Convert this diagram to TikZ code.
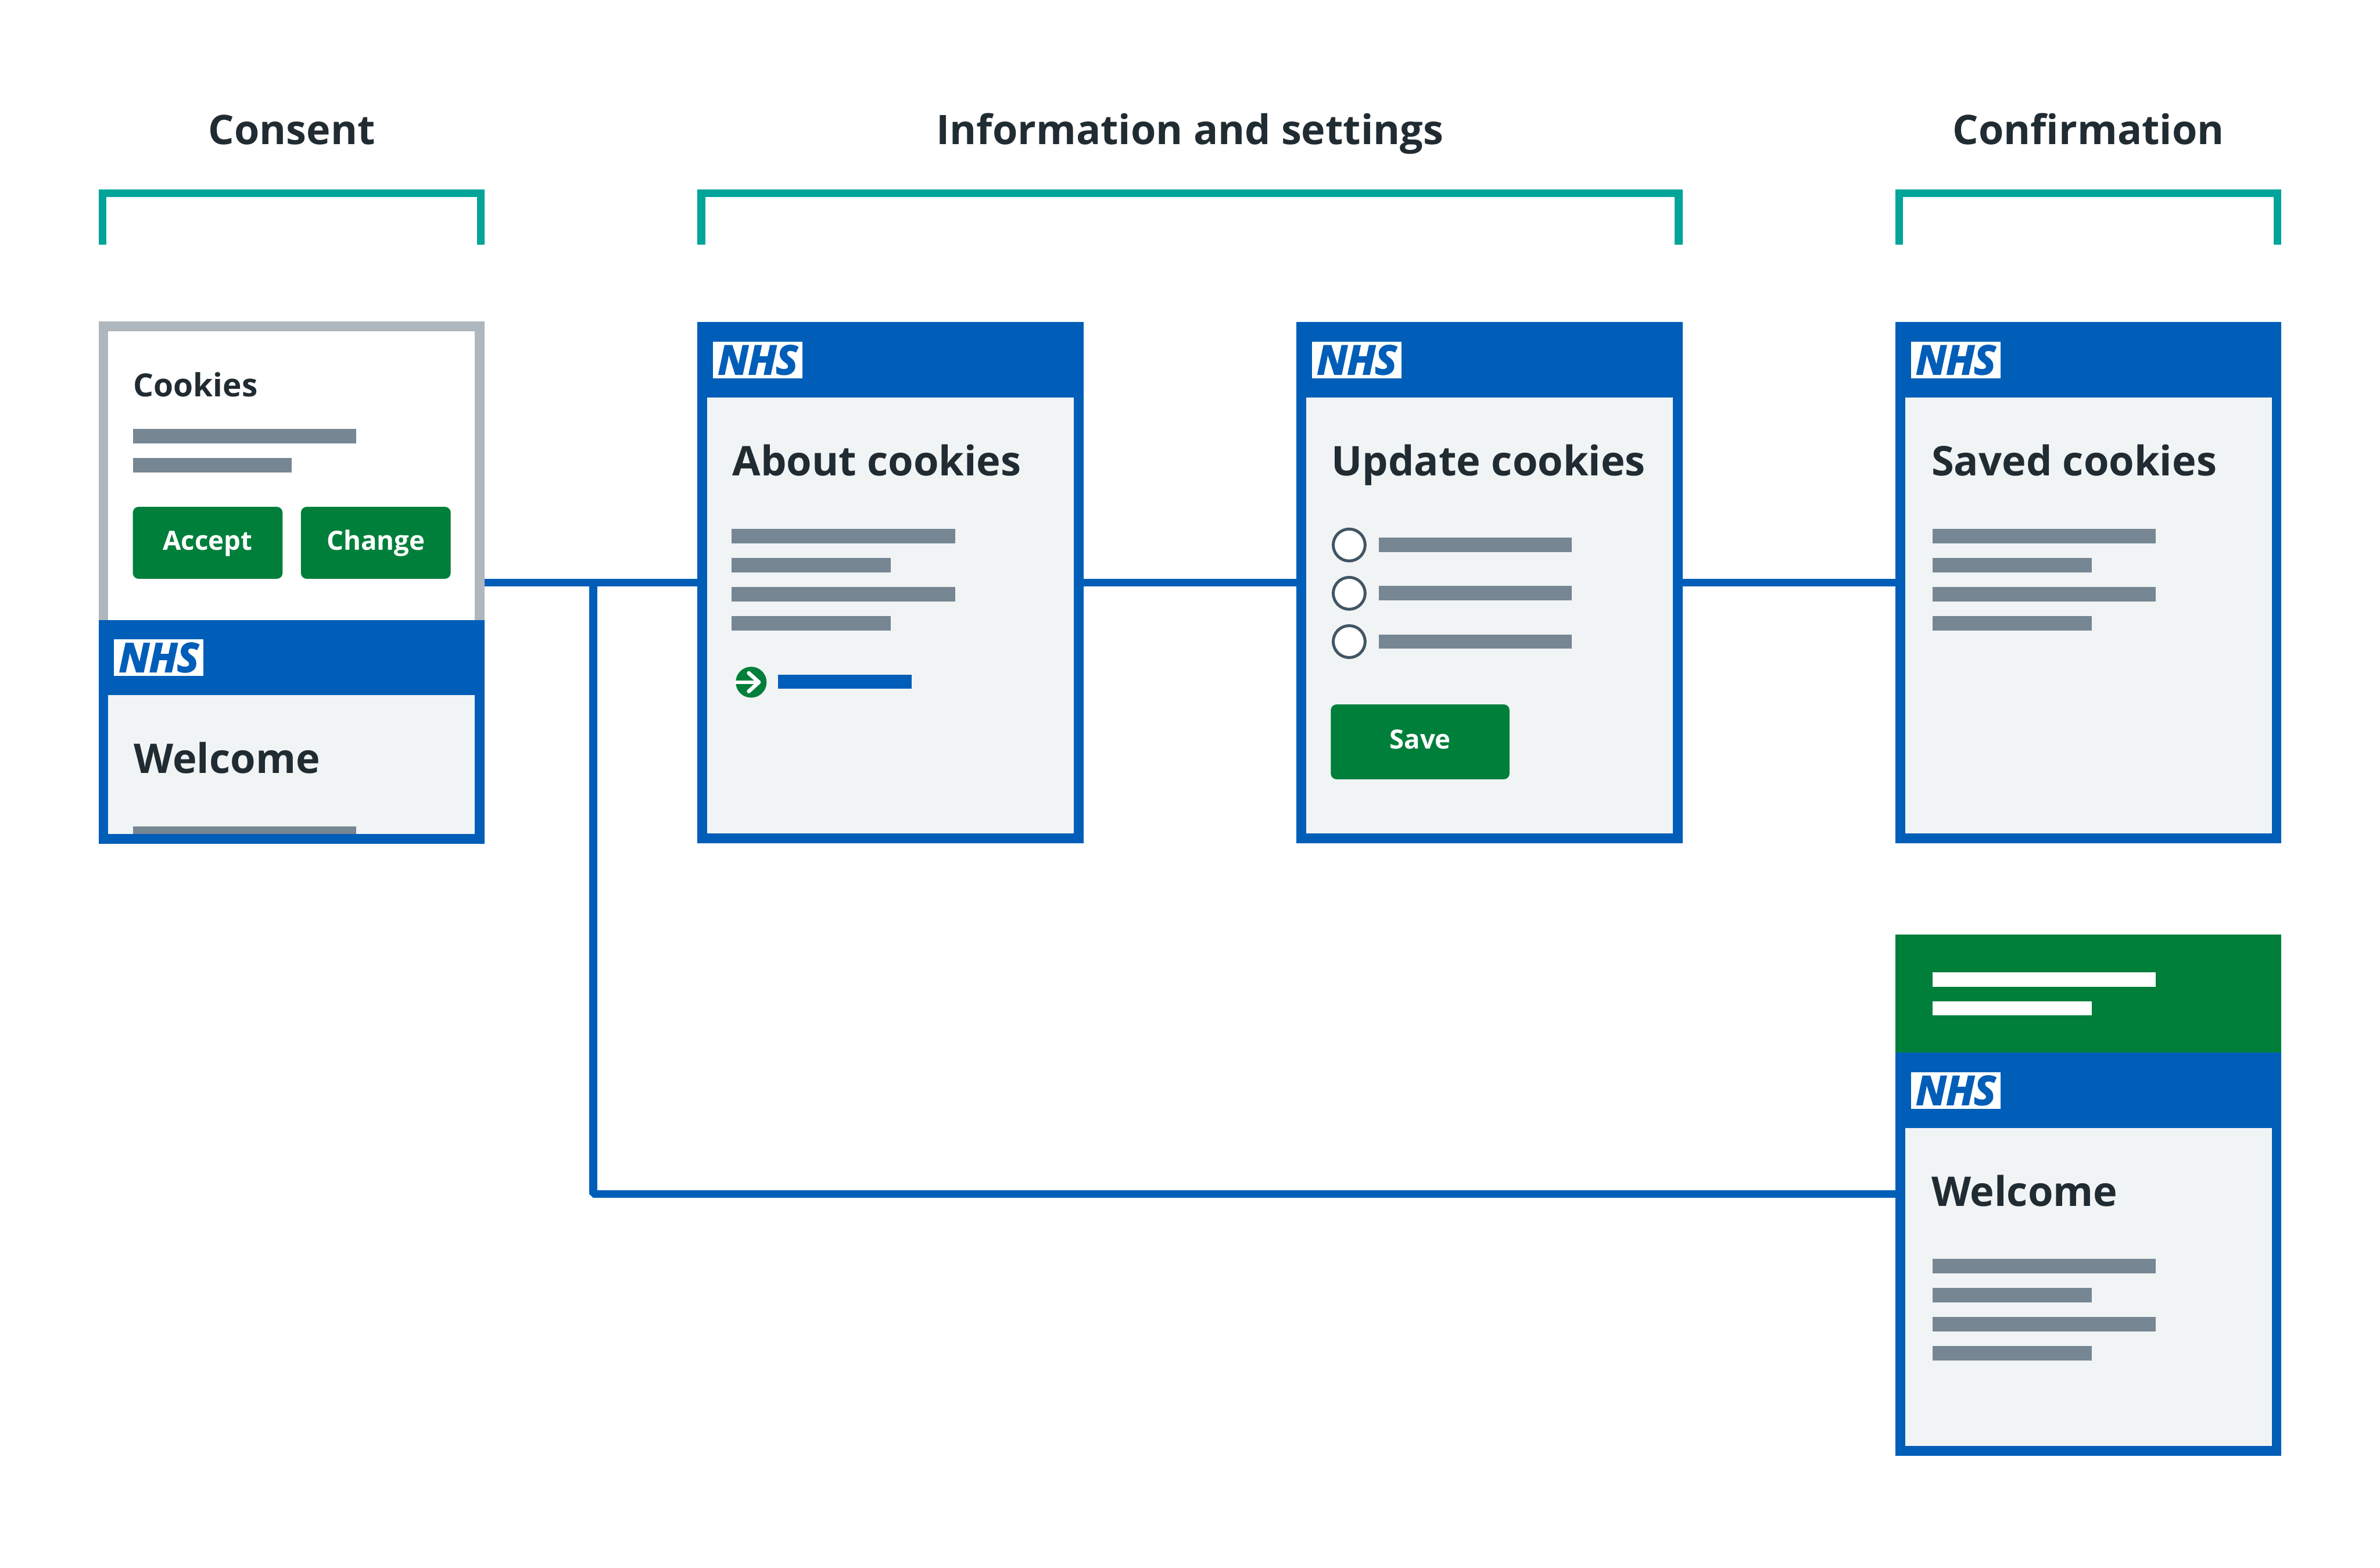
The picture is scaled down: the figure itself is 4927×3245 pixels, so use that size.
\documentclass[tikz,border=0pt]{standalone}
\usepackage{fontspec}
\setmainfont{Open Sans}
\newfontfamily\nhsfont[FakeBold=3]{Open Sans}
\usetikzlibrary{arrows.meta,positioning,calc}
\definecolor{nhsblue}{RGB}{0,94,184}
\definecolor{nhsgreen}{RGB}{0,127,59}
\definecolor{nhsaqua}{RGB}{0,164,153}
\definecolor{nhspale}{RGB}{240,244,245}
\definecolor{nhsbar}{RGB}{118,134,146}
\definecolor{nhsedge}{RGB}{174,183,189}
\definecolor{nhstext}{RGB}{33,43,50}
\definecolor{nhsring}{RGB}{66,85,99}
\newcommand{\pghead}[3]{%
  \fill[nhsblue] (#2,#3) rectangle ++(799,156);
  \node[logo] (#1) at (#2+124.5,#3+78) {\nhsfont\bfseries\itshape NHS};}
\newcommand{\greybars}[2]{%
  \fill[nhsbar] (#1,#2) rectangle ++(462,30);
  \fill[nhsbar] (#1,#2+60) rectangle ++(329,30);
  \fill[nhsbar] (#1,#2+120) rectangle ++(462,30);
  \fill[nhsbar] (#1,#2+180) rectangle ++(329,30);}
\tikzset{
  page/.style={draw=nhsblue, fill=nhspale, line width=1mm, inner sep=0pt, minimum width=38.95mm},
  banner/.style={draw=nhsedge, fill=white, line width=1mm, inner sep=0pt, minimum width=38.95mm},
  logo/.style={fill=white, text=nhsblue, inner sep=0pt, minimum width=9.25mm, minimum height=3.8mm, font=\fontsize{11.8}{12}\selectfont},
  ttl/.style={anchor=base, text=nhstext, font=\fontsize{12}{15}\selectfont\bfseries},
  hdg/.style={anchor=base west, text=nhstext, inner sep=0pt, font=\fontsize{12.05}{15}\selectfont\bfseries},
  btn/.style={fill=nhsgreen, rounded corners=0.6mm, text=white, inner sep=0pt, text height=1.95mm, text depth=0.5mm, font=\fontsize{7.8}{9}\selectfont\bfseries},
  radio/.style={circle, draw=nhsring, fill=white, line width=0.3mm, inner sep=0pt, minimum size=3.3mm},
  brkt/.style={draw=nhsaqua, line width=0.8mm},
  conn/.style={draw=nhsblue, line width=0.8mm, line join=bevel},
}
\begin{document}
\begin{tikzpicture}[x=0.05mm, y=-0.05mm]
  \useasboundingbox (0,0) rectangle (4927,3245);
  % headings and their brackets
  \node[ttl] (consenttl) at (604,299) {Consent};
  \node[ttl] (infottl) at (2463.5,299) {Information and settings};
  \node[ttl] (confttl) at (4323.5,299) {Confirmation};
  \draw[brkt] (212,506) -- (212,400) -- (995,400) -- (995,506);
  \draw[brkt] (1452,506) -- (1452,400) -- (3475,400) -- (3475,506);
  \draw[brkt] (3932,506) -- (3932,400) -- (4715,400) -- (4715,506);
  % consent page, cookie banner over the home page
  \node[banner, minimum height=53.05mm] (consent) at (603.5,1206) {};
  \node[hdg, font=\fontsize{9.4}{12}\selectfont\bfseries] (cookiesttl) at (275,821) {Cookies};
  \fill[nhsbar] (275,888) rectangle ++(462,30);
  \fill[nhsbar] (275,948) rectangle ++(329,30);
  \node[btn, minimum width=15.5mm, minimum height=7.45mm] (accept) at (430,1123.5) {Accept};
  \node[btn, minimum width=15.5mm, minimum height=7.45mm] (change) at (778,1123.5) {Change};
  \node[page, minimum height=22.15mm] (home) at (603.5,1514.5) {};
  \pghead{homelogo}{204}{1283}
  \node[hdg] (homettl) at (276,1601) {Welcome};
  \fill[nhsbar] (275,1711) rectangle ++(462,15);
  % about page
  \node[page, minimum height=52.95mm] (about) at (1843.5,1206) {};
  \pghead{aboutlogo}{1444}{667}
  \node[hdg] (aboutttl) at (1515,985) {About cookies};
  \greybars{1515}{1095}
  \node[circle, fill=nhsgreen, inner sep=0pt, minimum size=3.2mm] (go) at (1555,1412) {};
  \draw[white, line width=0.4mm] (go.west) -- (1569,1412);
  \draw[white, line width=0.4mm, line cap=round, line join=round] (1550,1393) -- (1571,1412) -- (1550,1431);
  \fill[nhsblue] (1611,1396) rectangle ++(276,30);
  % update page
  \node[page, minimum height=52.95mm] (update) at (3083.5,1206) {};
  \pghead{updatelogo}{2684}{667}
  \node[hdg] (updatettl) at (2755,985) {Update cookies};
  \node[radio] (opta) at (2793,1128) {};
  \node[radio] (optb) at (2793,1228) {};
  \node[radio] (optc) at (2793,1328) {};
  \fill[nhsbar] (2855,1113) rectangle ++(399,30);
  \fill[nhsbar] (2855,1213) rectangle ++(399,30);
  \fill[nhsbar] (2855,1313) rectangle ++(399,30);
  \node[btn, minimum width=18.5mm, minimum height=7.75mm] (save) at (2940,1535.5) {Save};
  % saved page
  \node[page, minimum height=52.95mm] (saved) at (4323.5,1206) {};
  \pghead{savedlogo}{3924}{667}
  \node[hdg] (savedttl) at (3997,985) {Saved cookies};
  \greybars{4001}{1095}
  % success banner over the home page
  \fill[nhsgreen] (3924,1934) rectangle (4723,2179);
  \fill[white] (4001,2012) rectangle ++(462,30);
  \fill[white] (4001,2072) rectangle ++(329,30);
  \node[page, minimum height=40.7mm] (back) at (4323.5,2596) {};
  \pghead{backlogo}{3924}{2179}
  \node[hdg] (backttl) at (3997,2496) {Welcome};
  \greybars{4001}{2606}
  % links between the pages
  \coordinate (fork) at (1228,1206);
  \coordinate (backin) at (3924,2471);
  \draw[conn] (consent.east) -- (about.west);
  \draw[conn] (about.east) -- (update.west);
  \draw[conn] (update.east) -- (saved.west);
  \draw[conn] (fork) |- (backin);
\end{tikzpicture}
\end{document}
